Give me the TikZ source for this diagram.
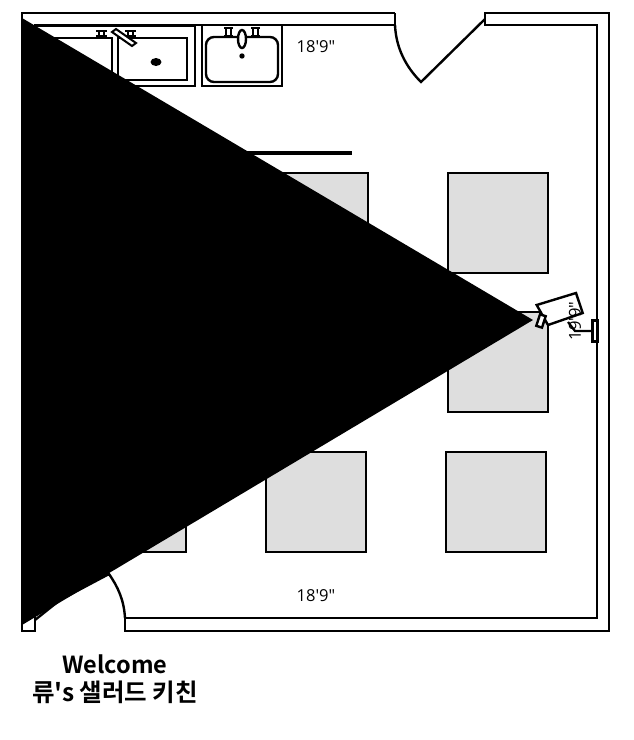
\documentclass[tikz,border=0pt]{standalone}
\usepackage{fontspec}
\setmainfont{Open Sans}
\newfontfamily\dimfont{Open Sans}
\newfontfamily\krfont{Noto Sans CJK KR}[BoldFont={Noto Sans CJK KR Bold}]
\tikzset{
  wall/.style={line width=2.7pt,line join=miter,line cap=butt},
  thin wall/.style={line width=2.4pt},
  tablebox/.style={draw=black,fill=black!13,line width=2.4pt},
  fixture/.style={draw=black,line width=2.4pt,fill=white},
  tap/.style={draw=black,line width=2pt,fill=white},
  dim/.style={font=\dimfont\fontsize{16.5}{16.5}\selectfont,inner sep=0pt},
  title/.style={font=\krfont\bfseries\fontsize{24.5}{24.5}\selectfont,inner sep=0pt},
}
\begin{document}
\begin{tikzpicture}[x=1pt,y=-1pt]
\useasboundingbox[fill=white] (0,0) rectangle (634,740);
% walls
\draw[wall] (395,13) -- (22,13) -- (22,631) -- (35,631) -- (35,25) -- (395,25) -- (395,13);
\draw[wall] (485,25) -- (485,13) -- (609,13) -- (609,631) -- (125,631) -- (125,618) -- (597,618) -- (597,25) -- cycle;
% doors
\draw[thin wall] (395,25) .. controls (396,47) and (405,66) .. (421,82) -- (485,19);
\draw[thin wall] (125,618) .. controls (124,600) and (118,587) .. (109,574) -- (60,600) -- (35,620);
% counter bar
\draw[line width=4pt] (240,153) -- (352,153);
% tables
\draw[tablebox] (268,173) rectangle (368,273);
\draw[tablebox] (448,173) rectangle (548,273);
\draw[tablebox] (448,312) rectangle (548,412);
\draw[tablebox] (86,452) rectangle (186,552);
\draw[tablebox] (266,452) rectangle (366,552);
\draw[tablebox] (446,452) rectangle (546,552);
% double sink
\draw[fixture] (36,26) rectangle (195,86);
\draw[fixture] (45,38) rectangle (112,80);
\draw[fixture] (118,38) rectangle (187,80);
\draw[tap] (96,31) -- (107,31) (96,36) -- (107,36) (99,31) rectangle (104,36);
\draw[tap] (125,31) -- (136,31) (125,36) -- (136,36) (128,31) rectangle (133,36);
\draw[tap] (112,32) -- (116,29) -- (136,43) -- (132,46) -- cycle;
\fill (156,62) ellipse (5.5 and 4);
% single sink
\draw[fixture] (202,25) rectangle (282,86);
\draw[fixture,rounded corners=8pt] (206,37) rectangle (278,82);
\draw[tap] (224,28) -- (233,28) (224,36) -- (233,36) (226,28) rectangle (231,36);
\draw[tap] (251,28) -- (260,28) (251,36) -- (260,36) (253,28) rectangle (258,36);
\draw[fixture] (242,39) ellipse (4 and 9);
\fill (242,56) circle (2.7);
% labels
\node[dim] (dimtop) at (316,47) {18'9"};
\node[dim] (dimbottom) at (316,596) {18'9"};
% camera
\draw[line width=2.2pt] (591,331) -- (575,331) -- (568,322);
\draw[fixture] (536.7,305) -- (576,293) -- (582.7,313) -- (548,325) -- cycle;
\draw[fixture,line width=3pt] (592,320) rectangle (597,341);
\draw[fixture,rotate around={-18:(541,321)}] (538,315) rectangle (544,327);
\node[dim,rotate=90] (dimright) at (575,321) {19'9"};
% view cone
\fill (22,18) -- (533,320) -- (22,625) -- cycle;
% title
\node[title,font=\krfont\bfseries\fontsize{23.5}{23.5}\selectfont] (welcome) at (115,664) {Welcome};
\node[title] (name) at (115,692) {류's 샐러드 키친};
\end{tikzpicture}
\end{document}
